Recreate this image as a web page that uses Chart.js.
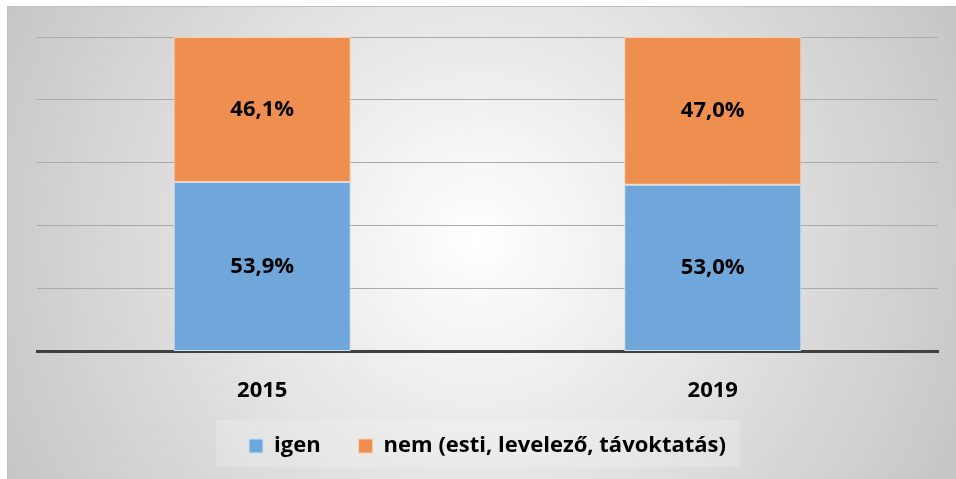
<!DOCTYPE html>
<html>
<head>
<meta charset="utf-8">
<script src="https://cdn.jsdelivr.net/npm/chart.js@4/dist/chart.umd.min.js"></script>
<style>
  body { margin: 0; background: #fff; }
  #wrap { width: 956px; height: 479px; position: relative; }
</style>
</head>
<body>
<div id="wrap"><canvas id="chart"></canvas></div>
<script>
var years = ["2015", "2019"];
var igen = [53.9, 53.0];
var nem = [46.1, 47.0];
var seriesNames = ["igen", "nem (esti, levelező, távoktatás)"];

var FONT = "'Open Sans', sans-serif";

// gradient background + frame, like the office chart area
var bgPlugin = {
    id: "bg",
    beforeDraw: function (chart) {
        var c = chart.ctx;
        var w = chart.width, h = chart.height;
        c.save();
        var g = c.createRadialGradient(w / 2, h / 2, 0, w / 2, h / 2, w * 0.55);
        g.addColorStop(0, "#ffffff");
        g.addColorStop(1, "#c6c6c6");
        c.fillStyle = g;
        c.fillRect(7, 6, w - 7, h - 6);
        c.strokeStyle = "#c0c0c0";
        c.lineWidth = 1;
        c.strokeRect(7.5, 6.5, w - 7, h - 6);
        // faint band behind legend
        c.fillStyle = "rgba(255,255,255,0.18)";
        c.fillRect(216, 420, 524, 47);
        c.restore();
    }
};

// percentage labels in the middle of each bar piece
var labelPlugin = {
    id: "pctLabels",
    afterDatasetsDraw: function (chart) {
        var c = chart.ctx;
        c.save();
        c.font = "bold 22px " + FONT;
        c.fillStyle = "#000";
        c.textAlign = "center";
        c.textBaseline = "middle";
        chart.data.datasets.forEach(function (ds, i) {
            chart.getDatasetMeta(i).data.forEach(function (bar, j) {
                var p = bar.getProps(["x", "y", "base"], true);
                var txt = ds.data[j].toFixed(1).replace(".", ",") + "%";
                c.fillText(txt, p.x, (p.y + p.base) / 2);
            });
        });
        c.restore();
    }
};

new Chart(document.getElementById("chart"), {
    type: "bar",
    data: {
        labels: years,
        datasets: [
            {
                label: seriesNames[0],
                data: igen,
                backgroundColor: "#70a7db",
                borderColor: "#cfe0f2",
                borderWidth: 1,
                borderSkipped: false
            },
            {
                label: seriesNames[1],
                data: nem,
                backgroundColor: "#ee8f50",
                borderColor: "#f8cfb3",
                borderWidth: 1,
                borderSkipped: false
            }
        ]
    },
    options: {
        responsive: true,
        maintainAspectRatio: false,
        animation: false,
        layout: { padding: { top: 37, left: 37, right: 18, bottom: 12 } },
        datasets: { bar: { categoryPercentage: 1, barPercentage: 0.393 } },
        scales: {
            x: {
                stacked: true,
                grid: { display: false, drawTicks: false },
                border: { color: "#404040", width: 3 },
                ticks: { color: "#000", font: { family: FONT, size: 22, weight: "bold" }, padding: 26 },
                afterFit: function (scale) { scale.height -= 33; }
            },
            y: {
                stacked: true,
                min: 0,
                max: 100,
                ticks: { display: false, stepSize: 20 },
                grid: { color: "#aaaaaa", lineWidth: 1, drawTicks: false },
                border: { display: false }
            }
        },
        plugins: {
            legend: {
                position: "bottom",
                labels: {
                    color: "#000",
                    font: { family: FONT, size: 22, weight: "bold" },
                    boxWidth: 14,
                    boxHeight: 14,
                    padding: 38
                }
            },
            tooltip: { enabled: false }
        }
    },
    plugins: [bgPlugin, labelPlugin]
});
</script>
</body>
</html>
